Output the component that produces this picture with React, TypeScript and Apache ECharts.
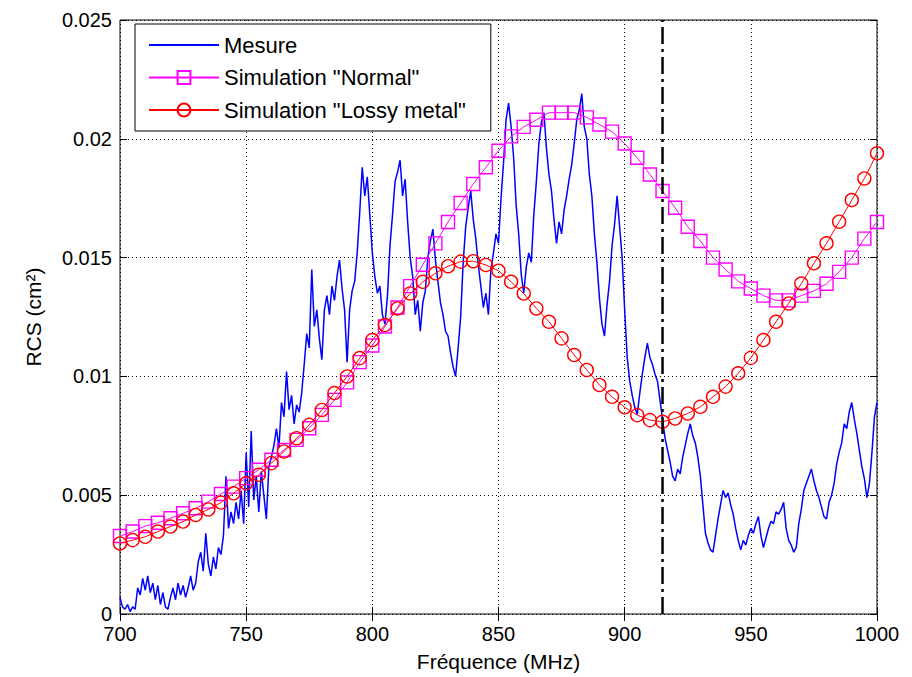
import React, { useEffect, useRef } from "react";
import * as echarts from "echarts";

const FONT = "'Liberation Sans', Arial, Helvetica, sans-serif";

// Frequency axis (MHz)
const freqMin = 700;
const freqMax = 1000;
const freqInterval = 50;
// RCS axis (cm²)
const rcsMin = 0;
const rcsMax = 0.025;
const rcsInterval = 0.005;

// Measurement: one sample per MHz from 700 to 1000
const mesureStart = 700;
const mesureStep = 1;
const mesure = [
  0.0007, 0.0003, 0.0002, 0.0004, 0.0001, 0.0003, 0.0002, 0.0011, 0.0008, 0.0015, 0.0010,
  0.0016, 0.0009, 0.0013, 0.0006, 0.0012, 0.0004, 0.0009, 0.0003, 0.0002, 0.0007,
  0.0011, 0.0006, 0.0013, 0.0008, 0.0012, 0.0007, 0.0011, 0.0016, 0.0010, 0.0013,
  0.0022, 0.0026, 0.0018, 0.0034, 0.0021, 0.0016, 0.0024, 0.0019, 0.0028, 0.0025,
  0.0033, 0.0058, 0.0036, 0.0043, 0.0038, 0.0047, 0.0040, 0.0052, 0.0038, 0.0068,
  0.0045, 0.0077, 0.0048, 0.0058, 0.0043, 0.0060, 0.0050, 0.0040, 0.0062, 0.0066,
  0.0071, 0.0078, 0.0070, 0.0089, 0.0083, 0.0102, 0.0086, 0.0092, 0.0080, 0.0088,
  0.0085, 0.0093, 0.0105, 0.0118, 0.0112, 0.0145, 0.0121, 0.0128, 0.0116, 0.0107,
  0.0128, 0.0134, 0.0126, 0.0138, 0.0132, 0.0142, 0.0149, 0.0137, 0.0128, 0.0106,
  0.0128, 0.0136, 0.0140, 0.0152, 0.0169, 0.0188, 0.0176, 0.0184, 0.0168, 0.0152,
  0.0142, 0.0135, 0.0138, 0.0126, 0.0122, 0.0134, 0.0155, 0.0168, 0.0182, 0.0186,
  0.0191, 0.0176, 0.0183, 0.0165, 0.0150, 0.0142, 0.0126, 0.0132, 0.0119, 0.0131,
  0.0136, 0.0150, 0.0157, 0.0162, 0.0149, 0.0140, 0.0131, 0.0126, 0.0119, 0.0117,
  0.0110, 0.0104, 0.0100, 0.0112, 0.0125, 0.0148, 0.0163, 0.0171, 0.0178, 0.0166,
  0.0158, 0.0147, 0.0138, 0.0129, 0.0135, 0.0126, 0.0145, 0.0152, 0.0160, 0.0156,
  0.0175, 0.0190, 0.0208, 0.0215, 0.0205, 0.0192, 0.0172, 0.0160, 0.0143, 0.0135,
  0.0146, 0.0152, 0.0148, 0.0168, 0.0182, 0.0198, 0.0207, 0.0211, 0.0196, 0.0185,
  0.0178, 0.0166, 0.0156, 0.0165, 0.0160, 0.0170, 0.0176, 0.0183, 0.0189, 0.0198,
  0.0208, 0.0212, 0.0219, 0.0205, 0.0200, 0.0185, 0.0176, 0.0160, 0.0148, 0.0133,
  0.0122, 0.0117, 0.0130, 0.0140, 0.0155, 0.0164, 0.0176, 0.0163, 0.0150, 0.0128,
  0.0108, 0.0098, 0.0092, 0.0087, 0.0084, 0.0093, 0.0101, 0.0108, 0.0114, 0.0108,
  0.0105, 0.0101, 0.0098, 0.0090, 0.0082, 0.0074, 0.0069, 0.0064, 0.0058, 0.0056,
  0.0061, 0.0059, 0.0066, 0.0071, 0.0076, 0.0080, 0.0075, 0.0072, 0.0066, 0.0058,
  0.0046, 0.0034, 0.0030, 0.0027, 0.0026, 0.0033, 0.0040, 0.0046, 0.0052, 0.0049,
  0.0051, 0.0046, 0.0042, 0.0036, 0.0031, 0.0027, 0.0031, 0.0029, 0.0033, 0.0036,
  0.0034, 0.0038, 0.0041, 0.0033, 0.0028, 0.0032, 0.0036, 0.0039, 0.0038, 0.0043,
  0.0042, 0.0044, 0.0047, 0.0036, 0.0031, 0.0029, 0.0026, 0.0028, 0.0038, 0.0044,
  0.0052, 0.0055, 0.0058, 0.0061, 0.0056, 0.0052, 0.0049, 0.0045, 0.0041, 0.0040,
  0.0047, 0.0050, 0.0055, 0.0063, 0.0068, 0.0072, 0.0080, 0.0078, 0.0085, 0.0089,
  0.0082, 0.0076, 0.0069, 0.0062, 0.0057, 0.0049, 0.0055, 0.0068, 0.0083, 0.0089,
];

// Simulations: one sample every 5 MHz from 700 to 1000
const simStart = 700;
const simStep = 5;
const simNormal = [
  0.00328, 0.00347, 0.0037, 0.00384, 0.00403, 0.00424, 0.00445, 0.00473, 0.00505, 0.00536,
  0.00572, 0.00607, 0.00649, 0.0069, 0.00733, 0.00782, 0.00838, 0.00901, 0.00975, 0.0106,
  0.0113, 0.0121, 0.0129, 0.0138, 0.0147, 0.0156, 0.0165, 0.0173, 0.0181, 0.0188,
  0.0195, 0.0201, 0.0205, 0.0208, 0.0211, 0.0211, 0.0211, 0.0209, 0.0206, 0.0203,
  0.0198, 0.0192, 0.0185, 0.0178, 0.0171, 0.0163, 0.0157, 0.0150, 0.0145, 0.0140,
  0.0137, 0.0134, 0.0132, 0.0132, 0.0134, 0.0136, 0.0139, 0.0144, 0.0150, 0.0158,
  0.0165,
];
const simLossy = [
  0.00297, 0.00311, 0.00325, 0.00347, 0.00368, 0.00389, 0.00417, 0.0044, 0.00469, 0.00508,
  0.0055, 0.00586, 0.00635, 0.00684, 0.0074, 0.00796, 0.00859, 0.0093, 0.0100, 0.01077,
  0.01153, 0.01216, 0.01286, 0.01349, 0.01398, 0.01434, 0.01464, 0.01483, 0.01485, 0.01469,
  0.01445, 0.01398, 0.01349, 0.01286, 0.0123, 0.0116, 0.0109, 0.01027, 0.00964, 0.00914,
  0.0087, 0.00837, 0.00816, 0.00809, 0.00823, 0.00844, 0.00872, 0.00914, 0.00957, 0.01013,
  0.01078, 0.01153, 0.0123, 0.01307, 0.01391, 0.01476, 0.0156, 0.01651, 0.01742, 0.01833,
  0.01939,
];

// Vertical dash-dot marker frequency (MHz)
const markerFreq = 915;

const seriesNames = ["Mesure", 'Simulation "Normal"', 'Simulation "Lossy metal"'];

export default function App() {
  const ref = useRef<HTMLDivElement>(null);

  useEffect(() => {
    if (!ref.current) return;
    const chart = echarts.init(ref.current, null, { renderer: "svg" });

    const toPairs = (arr: number[], start: number, step: number) =>
      arr.map((v, i) => [start + i * step, v]);

    const tickCommon = {
      show: true,
      inside: true,
      length: 7,
      lineStyle: { color: "#000", width: 1 },
    };
    const gridLine = {
      show: true,
      lineStyle: { color: "#000", width: 1, type: [1, 3] as number[] },
    };

    const option: any = {
      animation: false,
      backgroundColor: "#fff",
      textStyle: { fontFamily: FONT },
      grid: {
        left: 120,
        right: 35,
        top: 20,
        bottom: 63,
        show: true,
        borderColor: "#000",
        borderWidth: 1,
        backgroundColor: "#fff",
      },
      legend: {
        data: [
          { name: seriesNames[0], itemStyle: { opacity: 0 } },
          { name: seriesNames[1] },
          { name: seriesNames[2] },
        ],
        orient: "vertical",
        left: 135,
        top: 24,
        itemWidth: 70,
        itemHeight: 16,
        itemGap: 10.5,
        padding: [10, 25, 10, 13],
        backgroundColor: "#fff",
        borderColor: "#000",
        borderWidth: 1,
        selectedMode: false,
        textStyle: { fontSize: 22, color: "#000", fontFamily: FONT, lineHeight: 22 },
      },
      xAxis: [
        {
          type: "value",
          min: freqMin,
          max: freqMax,
          interval: freqInterval,
          position: "bottom",
          axisLine: { show: false },
          axisTick: tickCommon,
          axisLabel: {
            color: "#000",
            fontSize: 20,
            margin: 10,
            fontFamily: FONT,
            formatter: (v: number) => String(v),
          },
          splitLine: gridLine,
          name: "Fréquence (MHz)",
          nameLocation: "middle",
          nameGap: 37,
          nameTextStyle: { color: "#000", fontSize: 21, fontFamily: FONT },
        },
        {
          type: "value",
          min: freqMin,
          max: freqMax,
          interval: freqInterval,
          position: "top",
          axisLine: { show: false },
          axisTick: tickCommon,
          axisLabel: { show: false },
          splitLine: { show: false },
        },
      ],
      yAxis: [
        {
          type: "value",
          min: rcsMin,
          max: rcsMax,
          interval: rcsInterval,
          position: "left",
          axisLine: { show: false },
          axisTick: tickCommon,
          axisLabel: {
            color: "#000",
            fontSize: 20,
            margin: 8,
            fontFamily: FONT,
            formatter: (v: number) => String(+v.toFixed(3)),
          },
          splitLine: gridLine,
          name: "RCS (cm²)",
          nameLocation: "middle",
          nameRotate: 90,
          nameGap: 76,
          nameTextStyle: { color: "#000", fontSize: 21, fontFamily: FONT },
        },
        {
          type: "value",
          min: rcsMin,
          max: rcsMax,
          interval: rcsInterval,
          position: "right",
          axisLine: { show: false },
          axisTick: tickCommon,
          axisLabel: { show: false },
          splitLine: { show: false },
        },
      ],
      series: [
        {
          name: seriesNames[0],
          type: "line",
          data: toPairs(mesure, mesureStart, mesureStep),
          symbol: "none",
          showSymbol: false,
          lineStyle: { color: "#0000ff", width: 1.5 },
          itemStyle: { color: "#0000ff" },
          z: 2,
        },
        {
          name: seriesNames[1],
          type: "line",
          data: toPairs(simNormal, simStart, simStep),
          symbol: "rect",
          symbolSize: 13,
          lineStyle: { color: "#ff00ff", width: 1 },
          itemStyle: { color: "rgba(255,255,255,0)", borderColor: "#ff00ff", borderWidth: 1.4 },
          z: 3,
        },
        {
          name: seriesNames[2],
          type: "line",
          data: toPairs(simLossy, simStart, simStep),
          symbol: "circle",
          symbolSize: 13,
          lineStyle: { color: "#ff0000", width: 1 },
          itemStyle: { color: "rgba(255,255,255,0)", borderColor: "#ff0000", borderWidth: 1.4 },
          z: 4,
        },
        {
          name: "marker",
          type: "line",
          data: [
            [markerFreq, rcsMin],
            [markerFreq, rcsMax],
          ],
          symbol: "none",
          silent: true,
          lineStyle: { color: "#000", width: 2.5, type: [17, 5, 3, 5] },
          z: 5,
        },
      ],
    };

    chart.setOption(option);
    return () => chart.dispose();
  }, []);

  return (
    <div
      ref={ref}
      style={{ position: "absolute", left: 0, top: 0, width: 912, height: 677, background: "#fff" }}
    />
  );
}
